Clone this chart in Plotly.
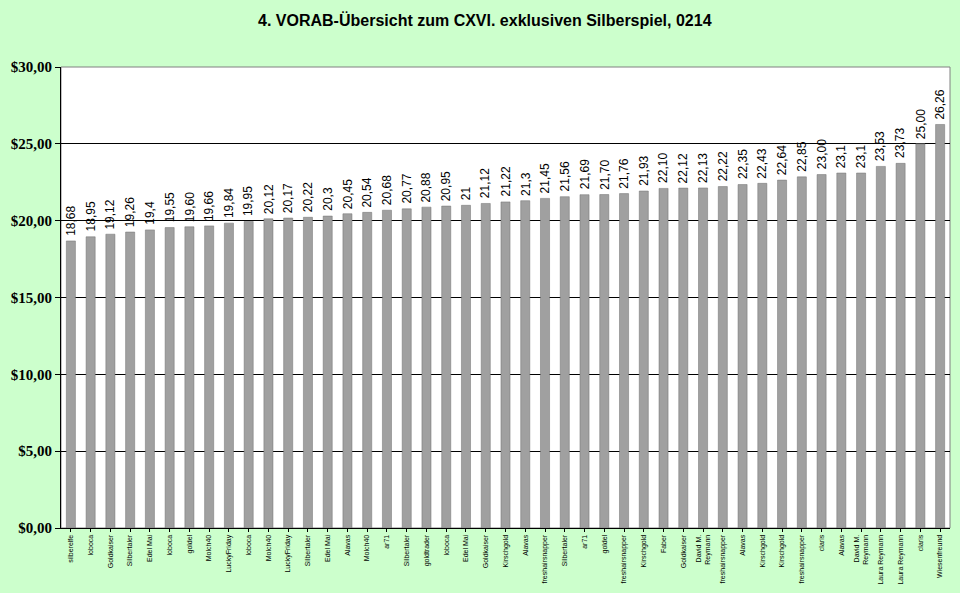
import plotly.graph_objects as go

# Teilnehmer und Tipps (sortiert)
namen = [
    "silberelfe", "loboca", "Goldkaiser", "Silbertaler", "Edel Mai",
    "loboca", "goldel", "Molch40", "LuckyFriday", "loboca",
    "Molch40", "LuckyFriday", "Silbertaler", "Edel Mai", "Alavas",
    "Molch40", "ar71", "Silbertaler", "goldtrader", "loboca",
    "Edel Mai", "Goldkaiser", "Kirschgold", "Alavas", "freshairsnapper",
    "Silbertaler", "ar71", "goldel", "freshairsnapper", "Kirschgold",
    "Faber", "Goldkaiser", "David M.<br>Reymann", "freshairsnapper", "Alavas",
    "Kirschgold", "Kirschgold", "freshairsnapper", "claris", "Alavas",
    "David M.<br>Reymann", "Laura Reymann", "Laura Reymann", "claris", "Wiesenfreund",
]
tipps = [
    18.68, 18.95, 19.12, 19.26, 19.4, 19.55, 19.60, 19.66, 19.84, 19.95,
    20.12, 20.17, 20.22, 20.3, 20.45, 20.54, 20.68, 20.77, 20.88, 20.95,
    21.0, 21.12, 21.22, 21.3, 21.45, 21.56, 21.69, 21.70, 21.76, 21.93,
    22.10, 22.12, 22.13, 22.22, 22.35, 22.43, 22.64, 22.85, 23.00, 23.1,
    23.1, 23.53, 23.73, 25.00, 26.26,
]
# Beschriftung wie im Original (teils ohne zweite Nachkommastelle)
tipp_text = [
    "18,68", "18,95", "19,12", "19,26", "19,4", "19,55", "19,60", "19,66", "19,84", "19,95",
    "20,12", "20,17", "20,22", "20,3", "20,45", "20,54", "20,68", "20,77", "20,88", "20,95",
    "21", "21,12", "21,22", "21,3", "21,45", "21,56", "21,69", "21,70", "21,76", "21,93",
    "22,10", "22,12", "22,13", "22,22", "22,35", "22,43", "22,64", "22,85", "23,00", "23,1",
    "23,1", "23,53", "23,73", "25,00", "26,26",
]
y_ticks = [0, 5, 10, 15, 20, 25, 30]
y_tick_text = ["<b>$0,00</b>", "<b>$5,00</b>", "<b>$10,00</b>", "<b>$15,00</b>",
               "<b>$20,00</b>", "<b>$25,00</b>", "<b>$30,00</b>"]

x_pos = list(range(len(tipps)))

fig = go.Figure()
fig.add_trace(go.Bar(
    x=x_pos, y=tipps,
    marker=dict(color="#a0a0a0", line=dict(color="#707070", width=0.5)),
    hoverinfo="y",
))

# Werte senkrecht über den Balken
for xi, yi, t in zip(x_pos, tipps, tipp_text):
    fig.add_annotation(
        x=xi, y=yi, text=t, textangle=-90, showarrow=False,
        xanchor="center", yanchor="bottom", yshift=3,
        font=dict(family="Liberation Sans, Arial", size=12, color="black"),
    )

fig.update_layout(
    width=960, height=593,
    paper_bgcolor="#ccffcc", plot_bgcolor="white",
    margin=dict(l=61, r=10, t=67, b=65, autoexpand=False),
    bargap=0.54,
    showlegend=False,
    title=dict(
        text="<b>4. VORAB-Übersicht zum CXVI. exklusiven Silberspiel, 0214</b>",
        x=0.505, xanchor="center", xref="container", y=0.966, yanchor="middle",
        font=dict(family="Liberation Sans, Arial", size=16, color="black"),
    ),
    xaxis=dict(
        tickmode="array", tickvals=x_pos, ticktext=namen, tickangle=-90,
        tickfont=dict(family="Liberation Sans, Arial", size=7, color="black"),
        range=[-0.5, len(tipps) - 0.5], automargin=False,
        showline=True, linecolor="black", linewidth=1,
        ticks="outside", ticklen=3, tickcolor="black",
        showgrid=False,
    ),
    yaxis=dict(
        range=[0, 30], tickmode="array", tickvals=y_ticks, ticktext=y_tick_text,
        tickfont=dict(family="Liberation Serif, Times New Roman", size=15, color="black"),
        showgrid=True, gridcolor="black", gridwidth=1, automargin=False,
        showline=True, linecolor="black", linewidth=1,
        ticks="outside", ticklen=5, tickcolor="black",
        zeroline=False,
    ),
    shapes=[dict(
        type="rect", xref="paper", yref="paper", x0=0, y0=0, x1=1, y1=1,
        line=dict(color="#808080", width=1), fillcolor="rgba(0,0,0,0)", layer="below",
    )],
)

fig.write_html("out.html", config={"displayModeBar": False},
               post_script="document.body.style.margin='0';")
